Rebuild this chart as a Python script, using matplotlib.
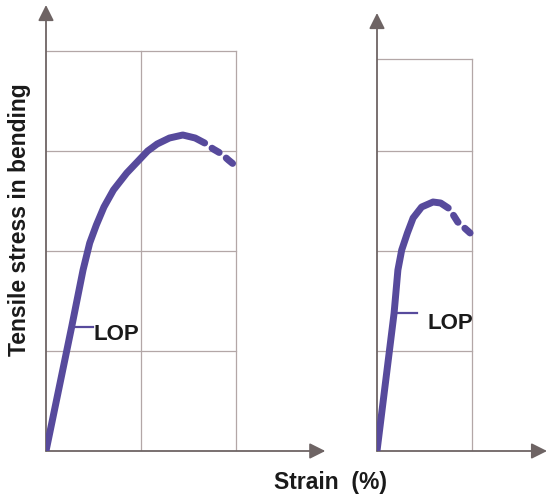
import numpy as np
import matplotlib
matplotlib.use('Agg')
import matplotlib.pyplot as plt

plt.rcParams['font.family'] = ['Liberation Sans', 'DejaVu Sans']

# Left specimen: strain (grid units) and stress (grid units)
left_strain = [0.0, 0.27, 0.39, 0.46, 0.53, 0.61, 0.71, 0.85, 0.98, 1.07, 1.17,
               1.30, 1.44, 1.57, 1.67]
left_stress = [0.0, 1.24, 1.81, 2.08, 2.26, 2.44, 2.61, 2.78, 2.91, 3.00, 3.07,
               3.13, 3.16, 3.13, 3.08]
left_tail_strain = [1.67, 1.76, 1.85, 1.92, 2.01]
left_tail_stress = [3.08, 3.02, 2.97, 2.91, 2.84]
left_lop = (0.27, 1.24)

# Right specimen
right_strain = [0.0, 0.18, 0.22, 0.26, 0.32, 0.38, 0.47, 0.59, 0.67, 0.75]
right_stress = [0.0, 1.38, 1.81, 2.01, 2.18, 2.33, 2.44, 2.49, 2.48, 2.43]
right_tail_strain = [0.75, 0.79, 0.85, 0.91, 0.98]
right_tail_stress = [2.43, 2.38, 2.29, 2.24, 2.18]
right_lop = (0.18, 1.38)

curve_color = '#574a9c'
axis_color = '#6e6464'
grid_color = '#b3a7a7'

fig = plt.figure(figsize=(5.48, 4.98), dpi=100)
W, H = 548.0, 498.0
ax_l = fig.add_axes([46 / W, 47 / H, 285 / W, 450 / H])
ax_r = fig.add_axes([377 / W, 47 / H, 171 / W, 450 / H])


def setup(ax, xmax, ymax, xgrid, ygrid, grid_right, grid_top, xtip, ytip):
    ax.set_xlim(0, xmax)
    ax.set_ylim(0, ymax)
    ax.axis('off')
    for x in xgrid:
        ax.plot([x, x], [0, grid_top], color=grid_color, lw=0.9, zorder=1)
    for y in ygrid:
        ax.plot([0, grid_right], [y, y], color=grid_color, lw=0.9, zorder=1)
    arrow = dict(arrowstyle='-|>,head_length=0.5,head_width=0.25',
                 mutation_scale=19, color=axis_color, lw=1.3,
                 shrinkA=0, shrinkB=0)
    ax.annotate('', xy=(xtip, 0), xytext=(0, 0), arrowprops=arrow,
                annotation_clip=False)
    ax.annotate('', xy=(0, ytip), xytext=(0, 0), arrowprops=arrow,
                annotation_clip=False)


def draw_curve(ax, xs, ys, tx, ty, lop, lop_end, text_pos):
    ax.plot(xs, ys, color=curve_color, lw=5, solid_capstyle='round',
            solid_joinstyle='round', zorder=3)
    ax.plot(tx, ty, color=curve_color, lw=5, dash_capstyle='round',
            linestyle=(1.2, (1.2, 1.3)), zorder=3)
    ax.plot([lop[0], lop_end], [lop[1], lop[1]], color=curve_color, lw=1.6, zorder=2)
    ax.text(text_pos[0], text_pos[1], 'LOP', fontsize=16, fontweight='bold',
            va='center', ha='left', color='#1a1a1a')


setup(ax_l, 3.0, 4.5, [1, 2], [1, 2, 3, 4], 2, 4, 2.94, 4.46)
setup(ax_r, 1.8, 4.5, [1], [1, 2, 3, 3.92], 1, 3.92, 1.79, 4.38)

draw_curve(ax_l, left_strain, left_stress, left_tail_strain, left_tail_stress,
           left_lop, 0.49, (0.5, 1.17))
draw_curve(ax_r, right_strain, right_stress, right_tail_strain, right_tail_stress,
           right_lop, 0.42, (0.53, 1.28))

fig.text(20 / W, 1 - 220 / H, 'Tensile stress in bending', rotation=90,
         fontsize=16.5, fontweight='bold', ha='center', va='center', color='#1a1a1a')
fig.text(331 / W, 1 - 482 / H, 'Strain  (%)', fontsize=16.5, fontweight='bold',
         ha='center', va='center', color='#1a1a1a')

fig.savefig('out.png', dpi=100)
